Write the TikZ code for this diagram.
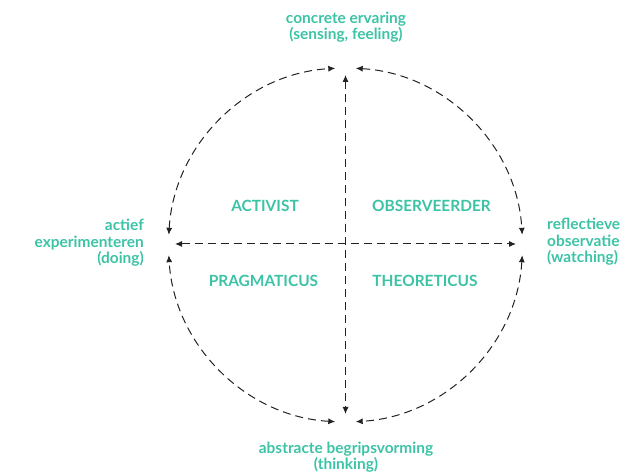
\documentclass[tikz,border=0pt]{standalone}
\usepackage{fontspec}
\setmainfont{Lato}
\usetikzlibrary{arrows.meta}
\definecolor{kolbgreen}{HTML}{3CC3A6}
\definecolor{lineink}{HTML}{222222}
\begin{document}
\begin{tikzpicture}[x=1bp,y=1bp,
  cycleline/.style={draw=lineink,line width=1bp,dash pattern=on 8bp off 5bp,
    {Latex[length=7bp,width=6bp]}-{Latex[length=7bp,width=6bp]}},
  phase/.style={text=kolbgreen,font=\fontsize{15.5}{16.5}\selectfont\bfseries,inner sep=0pt},
  lstyle/.style={text=kolbgreen,font=\fontsize{15.5}{17}\selectfont\bfseries,inner sep=0pt}]
\useasboundingbox (0,0) rectangle (637,472);
% centre and axis end points
\coordinate (c) at (345.5,227);
\coordinate (vtop) at (345.5,397);
\coordinate (vbot) at (345.5,58);
\coordinate (hleft) at (175,228);
\coordinate (hright) at (516,228);
% four quarter arcs of the learning cycle
\draw[cycleline] ([shift={(c)}]176.7:177) arc (176.7:93.3:177);
\draw[cycleline] ([shift={(c)}]86.7:177) arc (86.7:3.3:177);
\draw[cycleline] ([shift={(c)}]-3.3:177) arc (-3.3:-86.7:177);
\draw[cycleline] ([shift={(c)}]-93.3:177) arc (-93.3:-176.7:177);
% axes
\draw[cycleline] (vtop) -- (vbot);
\draw[cycleline] (hleft) -- (hright);
% phases
\node[phase,align=center] (ce) at (346,445) {concrete ervaring\\(sensing, feeling)};
\node[phase,align=right,anchor=east] (ae) at (144,229) {actief\\experimenteren\\(doing)};
\node[phase,align=left,anchor=west] (ro) at (547,230) {reflectieve\\observatie\\(watching)};
\node[phase,align=center] (ab) at (346,15) {abstracte begripsvorming\\(thinking)};
% learning styles
\node[lstyle] (act) at (265,266) {ACTIVIST};
\node[lstyle] (obs) at (431.5,266) {OBSERVEERDER};
\node[lstyle] (pra) at (263.5,191) {PRAGMATICUS};
\node[lstyle] (the) at (425,191) {THEORETICUS};
\end{tikzpicture}
\end{document}
